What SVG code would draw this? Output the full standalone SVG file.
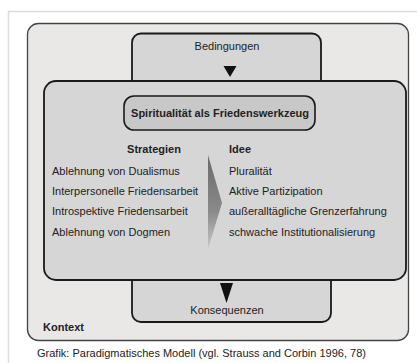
<svg xmlns="http://www.w3.org/2000/svg" width="417" height="363" viewBox="0 0 417 363">
<defs>
<style>
.t{font-family:"Liberation Sans",Arial,sans-serif;font-size:11px;fill:#222}
.b{font-weight:bold}
.box{fill:#d6d6d6;stroke:#1a1a1a;stroke-width:1.8}
</style>
<linearGradient id="g" x1="0" y1="0" x2="0" y2="1">
<stop offset="0" stop-color="#6a6a6a"/>
<stop offset="0.6" stop-color="#8a8a8a"/>
<stop offset="1" stop-color="#c8c8c8"/>
</linearGradient>
</defs>
<rect x="0" y="0" width="417" height="363" fill="#fff"/>
<path d="M8.5,363 V11.5 H417" fill="none" stroke="#dcdcdc" stroke-width="1.5"/>
<g id="kontext">
<rect x="27.5" y="23.5" width="381" height="317" rx="11" fill="#e9e8e7" stroke="#444" stroke-width="1.3"/>
<text class="t b" x="43" y="331" font-size="10.5">Kontext</text>
</g>
<g id="bedingungen">
<rect class="box" x="132" y="33.5" width="189" height="60" rx="9"/>
<text class="t" x="227" y="50" text-anchor="middle">Bedingungen</text>
</g>
<g id="konsequenzen">
<rect class="box" x="132" y="262" width="199" height="60" rx="9"/>
<text class="t" x="227" y="314" text-anchor="middle">Konsequenzen</text>
</g>
<g id="phaenomen">
<rect class="box" x="44" y="81" width="362" height="199" rx="12"/>
<path d="M208,155 L222,203 L208,249 Z" fill="url(#g)"/>
<text class="t b" x="154" y="153" text-anchor="middle">Strategien</text>
<text class="t" x="52" y="175">Ablehnung von Dualismus</text>
<text class="t" x="52" y="195">Interpersonelle Friedensarbeit</text>
<text class="t" x="52" y="215">Introspektive Friedensarbeit</text>
<text class="t" x="52" y="236">Ablehnung von Dogmen</text>
<text class="t b" x="229" y="153">Idee</text>
<text class="t" x="229" y="175">Pluralität</text>
<text class="t" x="229" y="195">Aktive Partizipation</text>
<text class="t" x="229" y="215">außeralltägliche Grenzerfahrung</text>
<text class="t" x="229" y="236">schwache Institutionalisierung</text>
</g>
<g id="titel">
<rect x="124" y="96" width="191" height="34" rx="10" fill="#c8c8c8" stroke="#1a1a1a" stroke-width="1.6"/>
<text class="t b" x="220" y="117" text-anchor="middle" font-size="11">Spiritualität als Friedenswerkzeug</text>
</g>
<g id="connectors">
<path d="M223.5,66 L236.5,66 L230,77 Z" fill="#111"/>
<path d="M220,283 L233,283 L226.5,303 Z" fill="#111"/>
</g>
<text class="t" x="37" y="357">Grafik: Paradigmatisches Modell (vgl. Strauss and Corbin 1996, 78)</text>
</svg>
